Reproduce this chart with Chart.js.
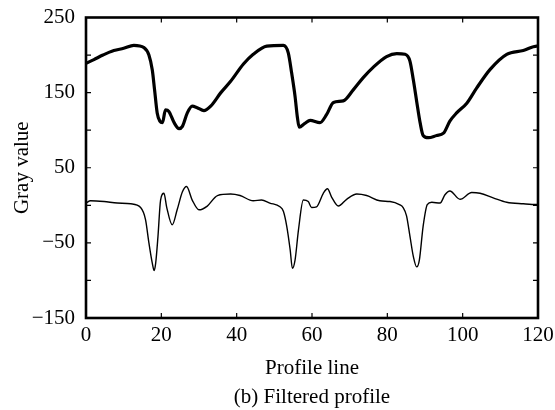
<!DOCTYPE html>
<html>
<head>
<meta charset="utf-8">
<script src="https://cdn.jsdelivr.net/npm/chart.js@4"></script>
<style>
html,body{margin:0;padding:0;background:#fff;}
#wrap{width:555px;height:410px;position:relative;}
</style>
</head>
<body>
<div id="wrap"><canvas id="c" width="555" height="410"></canvas></div>
<script>
// Upper (thick) profile
const upperX = [0,2.1,4.5,7.4,10,12.7,15.4,16.7,17.6,18.2,18.9,19.6,20.3,21.1,22,23.4,24.7,25.6,26.9,28.2,29.5,31.3,33.1,35.8,38.4,41.8,44.4,48,52.4,53.7,54.6,55.5,56.1,56.6,58.1,59.5,62.1,63.9,65.7,68.3,71,73.6,76.3,79.8,82.5,84.7,86,86.9,87.8,88.7,89.5,90.9,93.1,94.9,96.6,98.4,101.1,103.7,107.3,111.7,116.1,119.7,120];
const upperY = [189,194,200,206,209,213,210,200,180,154,123,112,110,127,125,110,102,105,123,132,130,126,132,150,165,188,201,212,213,203,176,145,118,104,109,113,110,121,137,139,154,170,184,198,202,201,192,167,138,110,93,90,93,96,112,123,136,156,181,201,206,212,212];
// Lower (thin) filtered profile
const lowerX = [0,1.2,4.8,8.3,11.9,14.5,15.8,16.7,17.6,18.1,18.5,19.1,19.8,20.7,21.4,22.9,24.2,25.6,26.7,28.2,30,32.2,34.9,38.4,40.9,44.4,46.6,48.8,51.5,52.4,53.3,54.2,54.8,55.5,56.4,57.7,59,59.9,61.2,63,64.1,65.2,67,69.2,71.9,74.5,78,80.7,83.2,84.2,85.1,86,86.9,87.8,88.5,89.5,90.6,91.8,94,95.3,96.6,99.3,102.4,104.6,108.1,111.7,116.1,119.7,120];
const lowerY = [3,6,5,3,2,-3,-19,-50,-77,-87,-77,-42,7,16,-2,-26,-6,18,25,7,-6,-1,13,15,13,6,7,3,-2,-8,-28,-59,-84,-73,-33,7,5,-3,-2,16,22,11,-1,8,15,13,6,5,1,-3,-14,-41,-68,-82,-73,-28,1,4,3,14,19,8,17,16,10,4,2,1,1];

const xTicks = [0,20,40,60,80,100,120];
const yTickLabels = [250,150,50,-50,-150];
const xTitle = 'Profile line';
const yTitle = 'Gray value';
const caption = '(b) Filtered profile';

const toPts = (xs, ys) => xs.map((x, i) => ({x: x, y: ys[i]}));
const FONT = "'Liberation Serif', 'Times New Roman', serif";

const framePlugin = {
  id: 'frame',
  afterDatasetsDraw(chart) {
    const {ctx, chartArea: a, scales} = chart;
    ctx.save();
    ctx.strokeStyle = '#000';
    // inward ticks
    ctx.lineWidth = 1.2;
    ctx.beginPath();
    for (let v = -150; v <= 250; v += 50) {
      const py = scales.y.getPixelForValue(v);
      ctx.moveTo(a.left, py); ctx.lineTo(a.left + 5, py);
      ctx.moveTo(a.right, py); ctx.lineTo(a.right - 5, py);
    }
    xTicks.forEach(v => {
      const px = scales.x.getPixelForValue(v);
      ctx.moveTo(px, a.bottom); ctx.lineTo(px, a.bottom - 5);
      ctx.moveTo(px, a.top); ctx.lineTo(px, a.top + 5);
    });
    ctx.stroke();
    ctx.lineWidth = 2.6;
    ctx.strokeRect(a.left, a.top, a.right - a.left, a.bottom - a.top);
    // caption centred under the plot area
    ctx.fillStyle = '#000';
    ctx.font = "21px " + FONT;
    ctx.textAlign = 'center';
    ctx.textBaseline = 'middle';
    ctx.fillText(caption, (a.left + a.right) / 2, 397.5);
    ctx.restore();
  }
};

new Chart(document.getElementById('c'), {
  type: 'line',
  data: {
    datasets: [
      {data: toPts(upperX, upperY), borderColor: '#000', borderWidth: 3.2, pointRadius: 0, cubicInterpolationMode: 'monotone', fill: false},
      {data: toPts(lowerX, lowerY), borderColor: '#000', borderWidth: 1.4, pointRadius: 0, cubicInterpolationMode: 'monotone', fill: false}
    ]
  },
  options: {
    responsive: false,
    animation: false,
    events: [],
    layout: {padding: {left: 0, right: 17, top: 17.5, bottom: 25.2}},
    plugins: {
      legend: {display: false},
      tooltip: {enabled: false},
      title: {display: false}
    },
    scales: {
      x: {
        type: 'linear', min: 0, max: 120,
        afterBuildTicks: s => { s.ticks = xTicks.map(v => ({value: v})); },
        afterFit: s => { s.height = 66.8; s.paddingLeft = 0; s.paddingRight = 0; },
        grid: {display: false, drawTicks: false},
        border: {display: false},
        ticks: {color: '#000', padding: 5, font: {family: FONT, size: 21}, maxRotation: 0, autoSkip: false},
        title: {display: true, text: xTitle, color: '#000', font: {family: FONT, size: 21, lineHeight: 1.2}, padding: {top: 0, bottom: 4.2}}
      },
      y: {
        type: 'linear', min: -150, max: 250,
        afterBuildTicks: s => { s.ticks = yTickLabels.map(v => ({value: v})); },
        afterFit: s => { s.width = 86; s.paddingTop = 0; s.paddingBottom = 0; },
        grid: {display: false, drawTicks: false},
        border: {display: false},
        ticks: {color: '#000', padding: 11, font: {family: FONT, size: 21},
                callback: v => (v < 0 ? '\u2212' + Math.abs(v) : String(v))},
        title: {display: true, text: yTitle, color: '#000', font: {family: FONT, size: 21, lineHeight: 1.2}, padding: {top: 9.4, bottom: 0}}
      }
    }
  },
  plugins: [framePlugin]
});
</script>
</body>
</html>
